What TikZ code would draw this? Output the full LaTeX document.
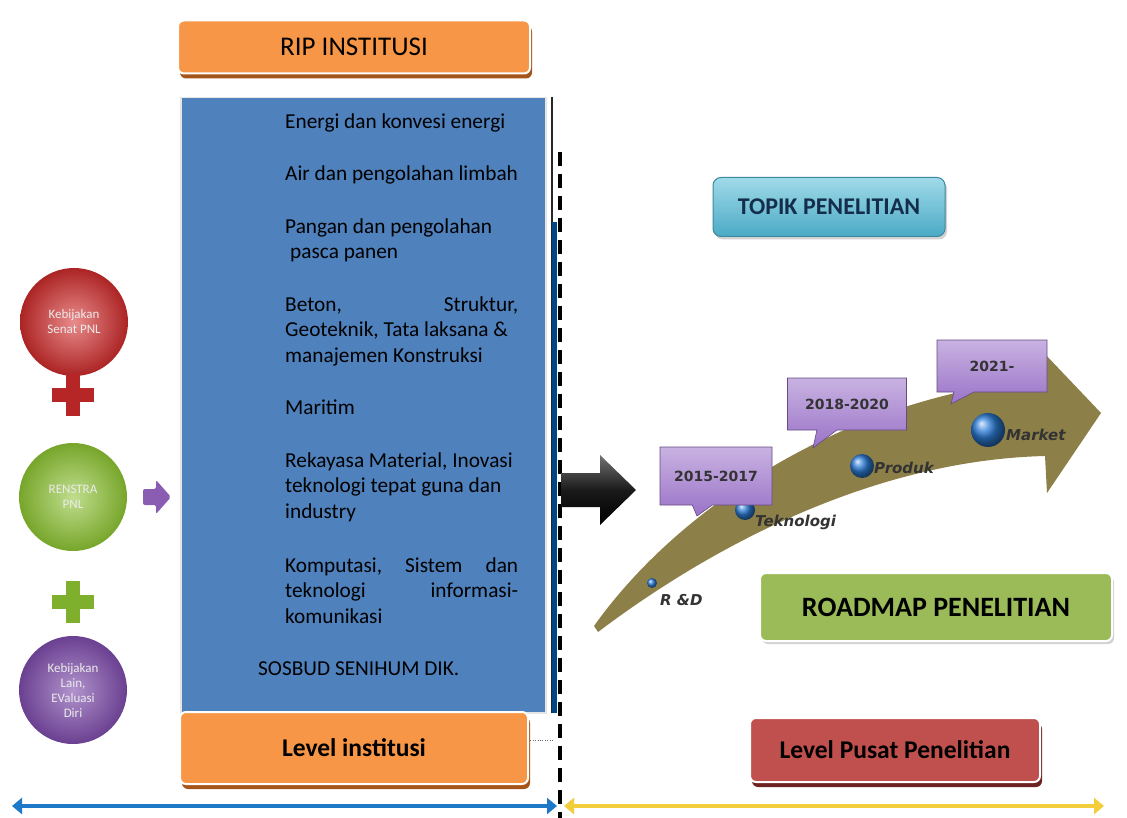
\documentclass[tikz,border=0pt]{standalone}
\usepackage{fontspec}
\setmainfont{Carlito}
\newfontfamily\tahfont{DejaVu Sans}
\usetikzlibrary{shapes.callouts,shadows,arrows.meta}

\definecolor{ripor}{RGB}{247,150,70}
\definecolor{ripshadow}{RGB}{165,85,25}
\definecolor{panelblue}{RGB}{79,129,189}
\definecolor{roadgreen}{RGB}{155,187,89}
\definecolor{pusatred}{RGB}{192,80,77}
\definecolor{pusatshadow}{RGB}{110,35,35}
\definecolor{olive}{RGB}{140,128,72}
\definecolor{callpurple}{RGB}{155,115,200}
\definecolor{dotblue}{RGB}{45,125,215}
\definecolor{arrblue}{RGB}{30,120,200}
\definecolor{arryellow}{RGB}{242,205,60}
\definecolor{senatred}{RGB}{215,45,45}
\definecolor{renstragreen}{RGB}{140,195,50}
\definecolor{lainpurple}{RGB}{125,75,170}
\definecolor{topiknavy}{RGB}{20,45,75}
\definecolor{topiktop}{RGB}{160,218,232}
\definecolor{topikbot}{RGB}{75,170,198}

\tikzset{
  orangebox/.style={draw=white, line width=2pt, rounded corners=6pt, fill=ripor,
    drop shadow={shadow xshift=2pt, shadow yshift=-5pt, fill=ripshadow, opacity=1}},
  itemtxt/.style={font=\fontsize{21.3}{25.5}\selectfont, inner sep=0pt, align=left},
  bubble/.style={circle, minimum size=108pt, inner sep=0pt, align=center, text=white!92!black,
    font=\fontsize{13}{15}\selectfont, shading=radial},
  callbox/.style={rectangle callout, top color=callpurple!55!white, bottom color=callpurple,
    draw=callpurple!65!black, line width=0.6pt,
    callout pointer width=20pt, font=\tahfont\bfseries\fontsize{14}{16}\selectfont, text=black!80},
  stagetxt/.style={font=\tahfont\bfseries\itshape\fontsize{15}{17}\selectfont, text=black!80, inner sep=0pt},
  levelbox/.style={draw=white, line width=2pt, rounded corners=6pt,
    font=\bfseries\fontsize{25.5}{30}\selectfont}
}

\begin{document}
\begin{tikzpicture}[x=1pt, y=-1pt]
  \useasboundingbox[fill=white] (0,0) rectangle (1127,818);

  % RIP header and panel
  \node[orangebox, minimum width=352pt, minimum height=53pt,
        font=\fontsize{27}{32}\selectfont] (rip) at (354,47) {RIP INSTITUSI};
  \node[fill=panelblue, draw=white!90!black, line width=1.5pt, minimum width=365pt,
        minimum height=615pt, anchor=north west] (panel) at (180,97) {};
  \draw[black!85, line width=1.2pt] (552,97) -- (552,713);
  \fill[teal!70!blue!80!black] (552,222) rectangle (557,713);
  \draw[dotted, black!60] (528,740) -- (553,740);

  % research fields (anchor on last baseline)
  \node[itemtxt, anchor=base west] (f1) at (285,129) {Energi dan konvesi energi};
  \node[itemtxt, anchor=base west] (f2) at (285,181) {Air dan pengolahan limbah};
  \node[itemtxt, anchor=base west] (f3) at (285,259) {Pangan dan pengolahan\\\hspace*{5pt}pasca panen};
  \node[itemtxt, anchor=base west] (f4) at (285,362)
    {\makebox[233pt][s]{Beton, \hfill Struktur,}\\Geoteknik, Tata laksana \&\\manajemen Konstruksi};
  \node[itemtxt, anchor=base west] (f5) at (285,414) {Maritim};
  \node[itemtxt, anchor=base west] (f6) at (285,518)
    {Rekayasa Material, Inovasi\\teknologi tepat guna dan\\industry};
  \node[itemtxt, anchor=base west] (f7) at (285,623)
    {\makebox[233pt][s]{Komputasi, \hfill Sistem \hfill dan}\\\makebox[233pt][s]{teknologi \hfill informasi-}\\komunikasi};
  \node[itemtxt, anchor=base west] (f8) at (258,675) {SOSBUD SENIHUM DIK.};

  % Level institusi
  \node[levelbox, fill=ripor, minimum width=348pt, minimum height=72pt,
        drop shadow={shadow xshift=2pt, shadow yshift=-5pt, fill=ripshadow, opacity=1}]
        (lvinst) at (354,748) {Level institusi};

  % left bubbles
  \node[bubble, inner color=senatred!55!white, outer color=senatred!80!black] (senat) at (74,322) {Kebijakan\\Senat PNL};
  \node[bubble, inner color=renstragreen!55!white, outer color=renstragreen!85!black] (renstra) at (73,497) {RENSTRA\\PNL};
  \node[bubble, inner color=lainpurple!60!white, outer color=lainpurple!85!black] (lain) at (73,690) {Kebijakan\\Lain,\\EValuasi\\Diri};
  \fill[senatred!85!black] (66,374) rectangle (80,416);
  \fill[senatred!85!black] (52,388) rectangle (94,402);
  \fill[renstragreen!90!black] (66,581) rectangle (80,623);
  \fill[renstragreen!90!black] (52,595) rectangle (94,609);
  \fill[lainpurple!90!white, rounded corners=2pt] (143,489) -- (156,489) -- (156,480)
    -- (171,497) -- (156,514) -- (156,505) -- (143,505) -- cycle;

  % divider
  \draw[black, line width=4pt, dash pattern=on 14pt off 8pt] (560,152) -- (560,818);

  % black arrow
  \shade[top color=black!55, bottom color=black, middle color=black!90]
    (561,473) -- (600,473) -- (600,455) -- (636,490) -- (600,525) -- (600,507) -- (561,507) -- cycle;

  % topik
  \node[rounded corners=8pt, top color=topiktop, bottom color=topikbot,
        draw=topikbot!80!black, line width=1pt, minimum width=232pt, minimum height=59pt,
        font=\bfseries\fontsize{24}{28}\selectfont, text=topiknavy,
        drop shadow={shadow xshift=2pt, shadow yshift=-3pt, opacity=.35}]
        (topik) at (829,207) {TOPIK PENELITIAN};

  % roadmap arrow
  \fill[olive] (594,626) .. controls (680,505) and (850,395) .. (1044,379)
    -- (1043,352) -- (1101,413) -- (1047,493) -- (1045,456)
    .. controls (880,460) and (720,540) .. (598,632) -- cycle;

  % stage dots
  \shade[ball color=dotblue] (652,583) circle (5);
  \shade[ball color=dotblue] (745,510) circle (10);
  \shade[ball color=dotblue] (862,466) circle (12);
  \shade[ball color=dotblue] (988,430) circle (17);
  \node[stagetxt, anchor=west] (rd) at (660,600) {R \&D};
  \node[stagetxt, anchor=west] (tek) at (755,522) {Teknologi};
  \node[stagetxt, anchor=west] (prod) at (874,468) {Produk};
  \node[stagetxt, anchor=west] (mkt) at (1006,435) {Market};

  % periods
  \node[callbox, minimum width=112pt, minimum height=58pt,
        callout absolute pointer={(697,516)}] (p1) at (716,476) {2015-2017};
  \node[callbox, minimum width=119pt, minimum height=52pt,
        callout absolute pointer={(813,448)}] (p2) at (847,404) {2018-2020};
  \node[callbox, minimum width=110pt, minimum height=52pt,
        callout absolute pointer={(951,404)}] (p3) at (992,366) {2021-};

  % roadmap label
  \node[levelbox, fill=roadgreen, minimum width=352pt, minimum height=68pt,
        font=\bfseries\fontsize{28}{32}\selectfont,
        drop shadow={shadow xshift=2pt, shadow yshift=-3pt, opacity=.35}]
        (road) at (936,607) {ROADMAP PENELITIAN};

  % level pusat
  \node[levelbox, fill=pusatred, minimum width=290pt, minimum height=64pt,
        drop shadow={shadow xshift=2pt, shadow yshift=-5pt, fill=pusatshadow, opacity=1}]
        (lvpusat) at (895,750) {Level Pusat Penelitian};

  % bottom arrows
  \coordinate (bl) at (12,806);
  \coordinate (bm) at (557,806);
  \coordinate (ym) at (564,806);
  \coordinate (yr) at (1104,806);
  \draw[arrblue, line width=4pt, {Triangle[width=16pt,length=10pt]}-{Triangle[width=16pt,length=10pt]}] (bl) -- (bm);
  \draw[arryellow, line width=4pt, {Triangle[width=16pt,length=10pt]}-{Triangle[width=16pt,length=10pt]}] (ym) -- (yr);
\end{tikzpicture}
\end{document}
